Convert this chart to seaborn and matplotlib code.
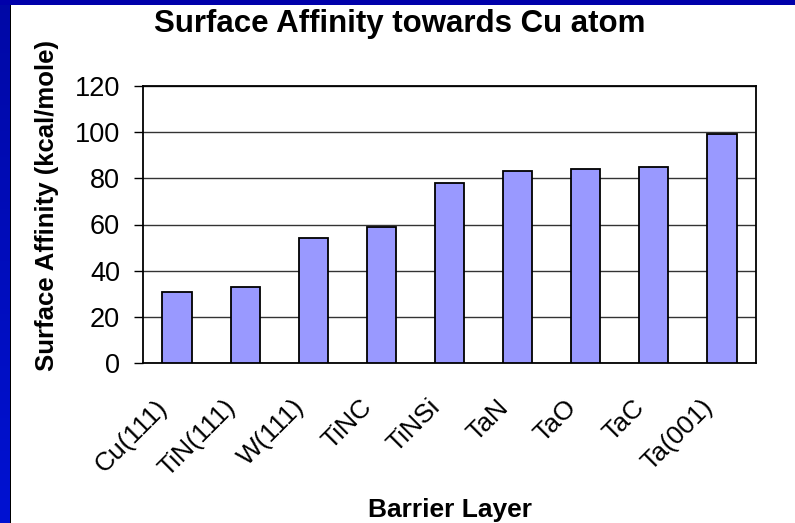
import numpy as np
import matplotlib
matplotlib.use("Agg")
import matplotlib.pyplot as plt
from matplotlib.colors import LinearSegmentedColormap
from matplotlib.transforms import ScaledTranslation
import seaborn as sns

# Barrier layers and their surface affinity towards a Cu atom (kcal/mole)
layers = ["Cu(111)", "TiN(111)", "W(111)", "TiNC", "TiNSi", "TaN", "TaO", "TaC", "Ta(001)"]
affinity = [31, 33, 54, 59, 78, 83, 84, 85, 99]
y_ticks = [0, 20, 40, 60, 80, 100, 120]

sns.set_theme(style="white")
plt.rcParams["font.family"] = ["Liberation Sans", "DejaVu Sans"]
for key in ("text.color", "axes.labelcolor", "xtick.color", "ytick.color"):
    plt.rcParams[key] = "black"

fig = plt.figure(figsize=(7.95, 5.23), dpi=100)
fig.patch.set_facecolor("white")

# Blue slide frame: gradient strip on the left, thin band on top
strip = fig.add_axes([0, 0, 10 / 795, 1])
cmap = LinearSegmentedColormap.from_list("frame", ["#0008A6", "#0012D2"])
strip.imshow(np.linspace(0, 1, 256).reshape(-1, 1), aspect="auto", cmap=cmap,
             extent=[0, 1, 0, 1], origin="upper")
strip.axis("off")
edge = fig.add_axes([10 / 795, 0, 1.4 / 795, 1])
edge.set_facecolor("black")
edge.set_xticks([]); edge.set_yticks([])
for s in edge.spines.values():
    s.set_visible(False)
top = fig.add_axes([0, 1 - 4.5 / 523, 1, 4.5 / 523])
top.set_facecolor("#0000AA")
top.set_xticks([]); top.set_yticks([])
for s in top.spines.values():
    s.set_visible(False)

ax = fig.add_axes([143 / 795, 1 - 363.3 / 523, (756 - 143) / 795, (363.3 - 85.7) / 523])
ax.set_facecolor("white")

sns.barplot(x=layers, y=affinity, color="#9999FF", edgecolor="black",
            linewidth=1.3, width=0.43, saturation=1, ax=ax, zorder=3)

ax.set_ylim(0, 120)
ax.set_xlim(-0.5, len(layers) - 0.5)
ax.set_yticks(y_ticks)
ax.set_yticklabels([str(v) for v in y_ticks], fontsize=19.5)
ax.yaxis.grid(True, color="#333333", linewidth=1.0, zorder=0)
ax.set_axisbelow(True)

# Labels at category centres, tick marks on category boundaries
ax.set_xticks(range(len(layers)))
ax.set_xticklabels(layers, rotation=45, ha="right", va="center",
                   rotation_mode="anchor", fontsize=19)
ax.set_xticks(np.arange(-0.5, len(layers)), minor=True)
ax.tick_params(axis="x", which="major", length=0, pad=29)
ax.tick_params(axis="x", which="minor", length=6.5, width=1, color="black", direction="out")
ax.tick_params(axis="y", length=6.5, width=1, color="black", direction="out", pad=10, left=True)
shift = ScaledTranslation(-0.13, 0, fig.dpi_scale_trans)
for lab in ax.get_xticklabels():
    lab.set_transform(lab.get_transform() + shift)

for s in ax.spines.values():
    s.set_visible(True)
    s.set_color("black")
    s.set_linewidth(1.3)

ax.set_ylabel("Surface Affinity (kcal/mole)", fontsize=18.5, fontweight="bold", va="center")
ax.yaxis.set_label_coords(-0.157, 0.567)
ax.set_xlabel("Barrier Layer", fontsize=19, fontweight="bold", va="center")
ax.xaxis.set_label_coords(0.5008, -0.528)
fig.text(0.503, 1 - 24 / 523, "Surface Affinity towards Cu atom", ha="center", va="center",
         fontsize=22.5, fontweight="bold")

fig.savefig("out.png", dpi=100)
